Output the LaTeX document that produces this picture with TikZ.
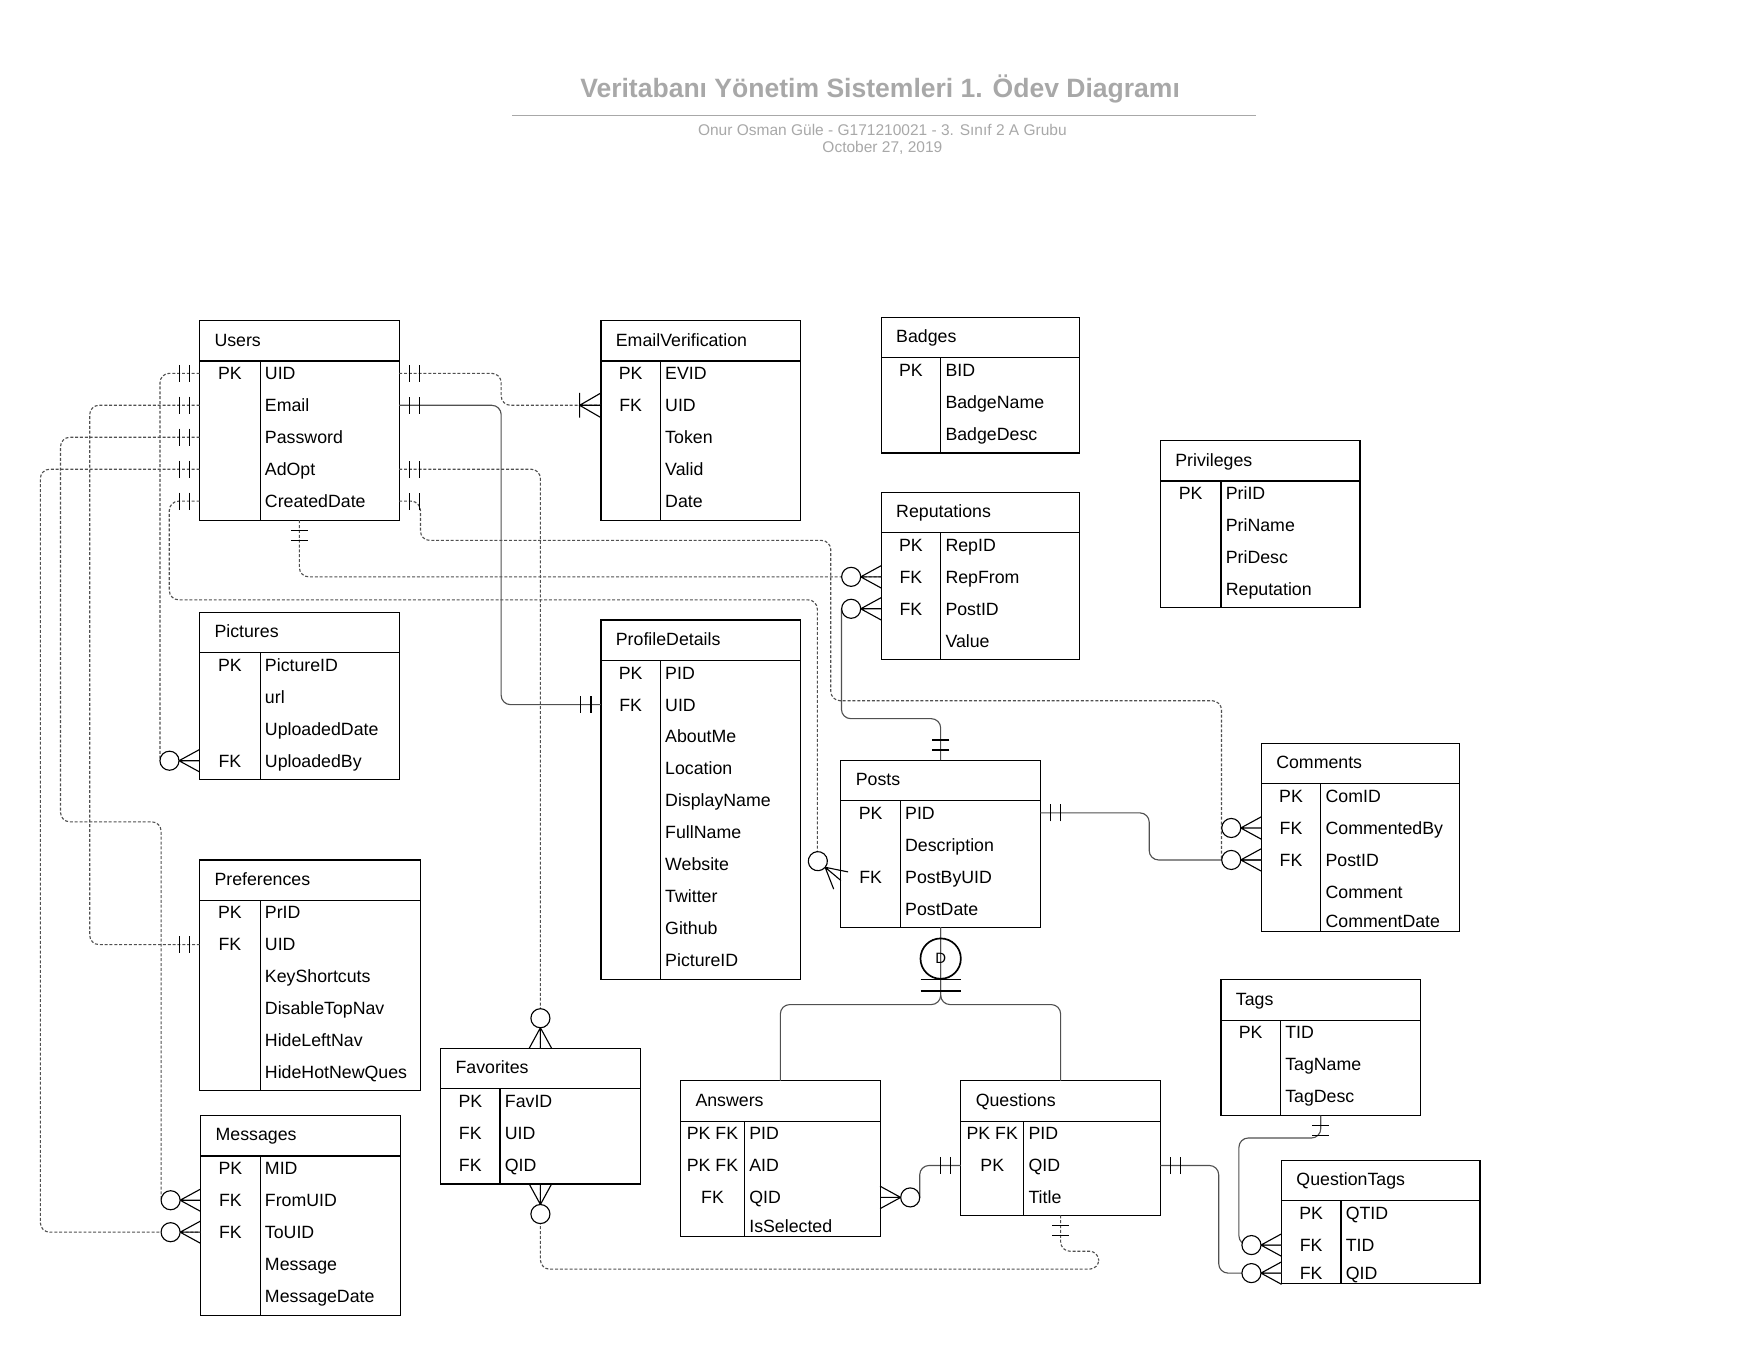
\documentclass[tikz,border=0pt]{standalone}
\usepackage{fontspec}
\setmainfont{Liberation Sans}
\definecolor{titlegray}{RGB}{168,168,168}
\definecolor{linkgray}{RGB}{80,80,80}

\tikzset{
  tbox/.style={draw, line width=0.6pt, anchor=north west, inner sep=0pt, outer sep=0pt},
  ttext/.style={font=\fontsize{9.5pt}{11pt}\selectfont, inner sep=0pt, text height=6.8pt, text depth=0pt},
  rel/.style={draw=linkgray, line width=0.6pt, rounded corners=5pt},
  fkrel/.style={rel, dash pattern=on 1.6pt off 1pt},
  pics/oneone/.style={code={
    \draw[line width=0.7pt] (5.4pt,-4.6pt) -- (5.4pt,4.6pt) (10.8pt,-4.6pt) -- (10.8pt,4.6pt);}},
  pics/zeromany/.style={code={
    \draw[line width=0.6pt] (0pt,6pt) -- (11pt,0pt) -- (0pt,-6pt) (0pt,0pt) -- (11pt,0pt);
    \draw[line width=0.6pt, fill=white] (16.1pt,0pt) circle[radius=5.1pt];}},
  pics/onemany/.style={code={
    \draw[line width=0.6pt] (0pt,6.6pt) -- (11.4pt,0pt) -- (0pt,-6.6pt) (0pt,0pt) -- (11.4pt,0pt)
      (11.4pt,-6.6pt) -- (11.4pt,6.6pt);}},
}

% name, x, y, width, height, key width, title, rows
\newcommand{\ertable}[8]{%
  \node[tbox, minimum width=#4*0.6pt, minimum height=#5*0.6pt] (#1) at (#2,#3) {};
  \draw[line width=0.6pt] (#2,#3+36) -- (#2+#4,#3+36) (#2+#6,#3+36) -- (#2+#6,#3+#5);
  \node[ttext, anchor=west] (#1-title) at (#2+13,#3+17) {#7};
  \foreach \k/\f [count=\i] in {#8} {
    \pgfmathsetmacro\rowy{min(#3+47+28.5*(\i-1),#3+#5-9.5)}
    \coordinate (#1-\i-w) at (#2,\rowy);
    \coordinate (#1-\i-e) at (#2+#4,\rowy);
    \node[ttext] (#1-\i-key) at (#2+#6/2,\rowy) {\k};
    \node[ttext, anchor=west] (#1-\i-field) at (#2+#6+4,\rowy) {\f};
  }%
}

\begin{document}
\begin{tikzpicture}[x=0.6pt, y=-0.6pt]
  \useasboundingbox (0,0) rectangle (1568,1211);

  \node[font=\bfseries\fontsize{14.2pt}{17pt}\selectfont, text=titlegray] (title) at (785,79)
    {Veritabanı Yönetim Sistemleri 1. Ödev Diagramı};
  \draw[titlegray, line width=1pt] (457,103) -- (1120,103);
  \node[font=\fontsize{8.3pt}{10pt}\selectfont, text=titlegray] (author) at (787,116)
    {Onur Osman Güle - G171210021 - 3. Sınıf 2 A Grubu};
  \node[font=\fontsize{8.3pt}{10pt}\selectfont, text=titlegray] (date) at (787,132) {October 27, 2019};

  \ertable{users}{178}{286}{178}{178}{54}{Users}{PK/UID, /Email, /Password, /AdOpt, /CreatedDate}
  \ertable{ev}{536}{286}{178}{178}{53}{EmailVerification}{PK/EVID, FK/UID, /Token, /Valid, /Date}
  \ertable{badges}{786}{283}{177}{121}{53}{Badges}{PK/BID, /BadgeName, /BadgeDesc}
  \ertable{priv}{1035}{393}{178}{149}{54}{Privileges}{PK/PriID, /PriName, /PriDesc, /Reputation}
  \ertable{rep}{786}{439}{177}{149}{53}{Reputations}{PK/RepID, FK/RepFrom, FK/PostID, /Value}
  \ertable{pics}{178}{546}{178}{149}{54}{Pictures}{PK/PictureID, /url, /UploadedDate, FK/UploadedBy}
  \ertable{pd}{536}{553}{178}{321}{53}{ProfileDetails}{PK/PID, FK/UID, /AboutMe, /Location,
    /DisplayName, /FullName, /Website, /Twitter, /Github, /PictureID}
  \ertable{posts}{750}{678}{178}{149}{53}{Posts}{PK/PID, /Description, FK/PostByUID, /PostDate}
  \ertable{com}{1125}{663}{177}{168}{53}{Comments}{PK/ComID, FK/CommentedBy, FK/PostID, /Comment, /CommentDate}
  \ertable{pref}{178}{767}{197}{206}{54}{Preferences}{PK/PrID, FK/UID, /KeyShortcuts, /DisableTopNav,
    /HideLeftNav, /HideHotNewQues}
  \ertable{msg}{179}{995}{178}{178}{53}{Messages}{PK/MID, FK/FromUID, FK/ToUID, /Message, /MessageDate}
  \ertable{fav}{393}{935}{178}{121}{53}{Favorites}{PK/FavID, FK/UID, FK/QID}
  \ertable{ans}{607}{964}{178}{139}{57}{Answers}{PK FK/PID, PK FK/AID, FK/QID, /IsSelected}
  \ertable{ques}{857}{964}{178}{120}{56}{Questions}{PK FK/PID, PK/QID, /Title}
  \ertable{tags}{1089}{874}{178}{121}{53}{Tags}{PK/TID, /TagName, /TagDesc}
  \ertable{qt}{1143}{1035}{177}{110}{53}{QuestionTags}{PK/QTID, FK/TID, FK/QID}

  \coordinate (postby) at (729,768);

  \draw[fkrel] (users-1-e) -| (447,0 |- ev-2-w) -- (ev-2-w);
  \draw[rel] (users-2-e) -| (447,0 |- pd-2-w) -- (pd-2-w);
  \draw[fkrel] (users-4-e) -| (fav.north);
  \draw[fkrel] (users-5-e) -| (375,482) -| (741,625) -| (1089.5,0 |- com-3-w);
  \draw[fkrel] (users.south) |- (rep-2-w);
  \draw[fkrel] (users-1-w) -| (142.7,0 |- pics-4-w);
  \draw[fkrel] (users-2-w) -| (80,0 |- pref-2-w) -- (pref-2-w);
  \draw[fkrel] (users-3-w) -| (54,733) -| (143.7,0 |- msg-2-w);
  \draw[fkrel] (users-4-w) -| (36,0 |- msg-3-w) -- (msg-3-w);
  \draw[fkrel] (users-5-w) -| (151,535) -| (postby);
  \draw[rel] (posts.north) |- (750.5,641) -- (750.5,0 |- rep-3-w);
  \draw[rel] (posts-1-e) -| (1025,0 |- com-3-w) -- (com-3-w);
  \draw[rel] (posts.south) |- (ans.north |- 0,896) -- (ans.north);
  \draw[rel] (posts.south) |- (ques.north |- 0,896) -- (ques.north);
  \draw[rel] (ques-2-w) -| (820.3,0 |- ans-3-e);
  \draw[fkrel] (ques.south) |- (980,1116) |- (fav.south |- 0,1132) -- (fav.south);
  \draw[rel] (ques-2-e) -| (1087,0 |- qt-3-w) -- (qt-3-w);
  \draw[rel] (tags.south) |- (1105,1015) |- (qt-2-w);

  \node[draw, circle, line width=0.9pt, minimum size=21.6pt, inner sep=0pt,
    font=\fontsize{8pt}{9pt}\selectfont] (disjoint) at (839,855) {D};
  \draw[line width=0.9pt] ([xshift=-10.8pt]disjoint.south) -- ([xshift=10.8pt]disjoint.south)
    ([xshift=-10.8pt,yshift=-6pt]disjoint.south) -- ([xshift=10.8pt,yshift=-6pt]disjoint.south);

  \foreach \i in {1,...,5} \pic[rotate=180] at (users-\i-w) {oneone};
  \foreach \i in {1,2,4,5} \pic at (users-\i-e) {oneone};
  \pic[rotate=270] at (users.south) {oneone};
  \pic[rotate=180] at (ev-2-w) {onemany};
  \pic[rotate=180] at (pd-2-w) {oneone};
  \pic[rotate=180] at (pref-2-w) {oneone};
  \pic[rotate=90] at (posts.north) {oneone};
  \pic at (posts-1-e) {oneone};
  \pic[rotate=180] at (ques-2-w) {oneone};
  \pic at (ques-2-e) {oneone};
  \pic[rotate=270] at (ques.south) {oneone};
  \pic[rotate=270] at (tags.south) {oneone};
  \pic[rotate=90] at (fav.north) {zeromany};
  \pic[rotate=270] at (fav.south) {zeromany};
  \pic[rotate=180] at (pics-4-w) {zeromany};
  \pic[rotate=180] at (rep-2-w) {zeromany};
  \pic[rotate=180] at (rep-3-w) {zeromany};
  \pic[rotate=180] at (com-2-w) {zeromany};
  \pic[rotate=180] at (com-3-w) {zeromany};
  \pic[rotate=180] at (msg-2-w) {zeromany};
  \pic[rotate=180] at (msg-3-w) {zeromany};
  \pic[rotate=140] at ([yshift=-2pt]posts-3-w) {zeromany};
  \pic at (ans-3-e) {zeromany};
  \pic[rotate=180] at (qt-2-w) {zeromany};
  \pic[rotate=180] at (qt-3-w) {zeromany};
\end{tikzpicture}
\end{document}
